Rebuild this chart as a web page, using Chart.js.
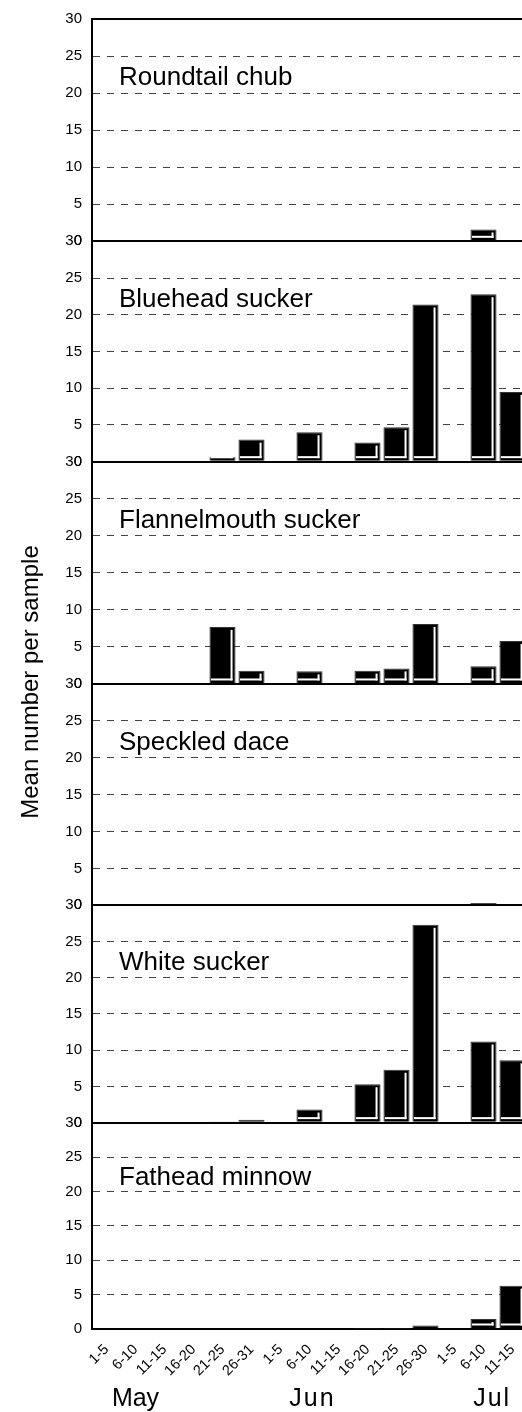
<!DOCTYPE html>
<html lang="en">
<head>
  <meta charset="UTF-8" />
  <title>Mean number per sample</title>
  <script src="https://cdn.jsdelivr.net/npm/chart.js"></script>
  <style>
    html, body { margin: 0; padding: 0; background: #fff; overflow: hidden; }
    #wrap { width: 527px; height: 1412px; }
  </style>
</head>
<body>
  <div id="wrap"><canvas id="fish" width="527" height="1412"></canvas></div>

  <script>
    // sampling periods (May, Jun, Jul)
    const periods = ['1-5', '6-10', '11-15', '16-20', '21-25', '26-31',
                     '1-5', '6-10', '11-15', '16-20', '21-25', '26-30',
                     '1-5', '6-10', '11-15'];
    const months = ['May', 'Jun', 'Jul'];
    const species = ['Roundtail chub', 'Bluehead sucker', 'Flannelmouth sucker',
                     'Speckled dace', 'White sucker', 'Fathead minnow'];

    // mean number per sample, one array per species
    const roundtail    = [0, 0, 0, 0, 0,   0,   0, 0,   0, 0,    0,    0.1,  0, 1.6,  0];
    const bluehead     = [0, 0, 0, 0, 0.6, 3.0, 0, 4.0, 0, 2.6,  4.7,  21.4, 0, 22.8, 9.5];
    const flannelmouth = [0, 0, 0, 0, 7.7, 1.8, 0, 1.7, 0, 1.8,  2.1,  8.1,  0, 2.4,  5.8];
    const speckled     = [0, 0, 0, 0, 0,   0,   0, 0,   0, 0,    0,    0,    0, 0.3,  0.1];
    const whiteSucker  = [0, 0, 0, 0, 0.1, 0.4, 0, 1.8, 0, 5.3,  7.3,  27.3, 0, 11.2, 8.6];
    const fathead      = [0, 0, 0, 0, 0,   0,   0, 0,   0, 0.05, 0.05, 0.5,  0, 1.45, 6.3];

    const yMin = 0, yMax = 30, yStep = 5;

    const series = [roundtail, bluehead, flannelmouth, speckled, whiteSucker, fathead];

    // layout bits (not data)
    const panelHeights = [223, 221, 223, 222, 218, 207];
    const monthAt = [1.0, 7.1, 13.3];
    const FONT = 'Arial, "Liberation Sans", sans-serif';

    const scales = {
      x: {
        type: 'category',
        grid: { display: false },
        border: { display: false },
        ticks: {
          autoSkip: false, maxRotation: 45, minRotation: 45, padding: 4,
          color: '#000', font: { family: FONT, size: 14.5 }
        },
        afterFit(s) { s.height = 83; s.paddingLeft = 0; s.paddingRight = 0; }
      }
    };

    series.forEach((_, i) => {
      scales['y' + i] = {
        type: 'linear',
        position: 'left',
        stack: 'panels',
        stackWeight: panelHeights[i],
        weight: 10 - i,
        min: yMin, max: yMax,
        ticks: {
          stepSize: yStep, autoSkip: false, padding: 10,
          color: '#000', font: { family: FONT, size: 15 }
        },
        grid: {
          drawTicks: false,
          color: c => (c.tick && c.tick.value % 30 === 0) ? '#000' : '#444',
          lineWidth: c => (c.tick && c.tick.value % 30 === 0) ? 2 : 1
        },
        border: {
          color: '#000', width: 2,
          dash: c => (c.tick && c.tick.value % 30 !== 0) ? [7, 7] : []
        },
        afterFit(s) { s.width = 92; }
      };
    });

    const datasets = series.map((vals, i) => ({
      label: species[i],
      data: vals,
      yAxisID: 'y' + i,
      backgroundColor: '#000',
      borderColor: '#333',
      borderWidth: 1
    }));

    // white inner edges on the bars + panel titles + month names
    const decor = {
      id: 'decor',
      afterDatasetsDraw(chart) {
        const ctx = chart.ctx;
        ctx.save();
        ctx.fillStyle = '#fff';
        chart.data.datasets.forEach((ds, i) => {
          chart.getDatasetMeta(i).data.forEach(bar => {
            const { x, y, base, width } = bar.getProps(['x', 'y', 'base', 'width'], true);
            const h = base - y;
            if (h < 3) return;
            const l = x - width / 2, r = x + width / 2;
            const top = Math.min(y + 3, base - 4);
            ctx.fillRect(r - 5, top, 2, base - 2.5 - top);
            ctx.fillRect(l + 1.5, base - 4.5, r - 3 - (l + 1.5), 2);
          });
        });
        ctx.restore();
      },
      afterDraw(chart) {
        const ctx = chart.ctx;
        ctx.save();
        ctx.fillStyle = '#000';
        ctx.font = '26px ' + FONT;
        ctx.textBaseline = 'middle';
        ctx.textAlign = 'left';
        species.forEach((name, i) => {
          const ys = chart.scales['y' + i];
          ctx.fillText(name, 119, ys.getPixelForValue(22));
        });

        const xs = chart.scales.x;
        ctx.font = '25px ' + FONT;
        ctx.textAlign = 'center';
        ctx.textBaseline = 'alphabetic';
        months.forEach((m, i) => {
          ctx.letterSpacing = i === 0 ? '0px' : '2px';
          ctx.fillText(m, xs.getPixelForValue(monthAt[i]), 1406);
        });
        ctx.letterSpacing = '0px';

        ctx.font = '24px ' + FONT;
        ctx.translate(31, 682);
        ctx.rotate(-Math.PI / 2);
        ctx.textBaseline = 'middle';
        ctx.fillText('Mean number per sample', 0, 0);
        ctx.restore();
      }
    };

    new Chart(document.getElementById('fish'), {
      type: 'bar',
      data: { labels: periods, datasets },
      options: {
        responsive: false,
        animation: false,
        devicePixelRatio: 1,
        layout: { padding: { top: 15, left: 0, right: 0, bottom: 0 } },
        datasets: { bar: { grouped: false, categoryPercentage: 1, barPercentage: 0.9 } },
        plugins: { legend: { display: false }, tooltip: { enabled: false } },
        scales
      },
      plugins: [decor]
    });
  </script>
</body>
</html>
